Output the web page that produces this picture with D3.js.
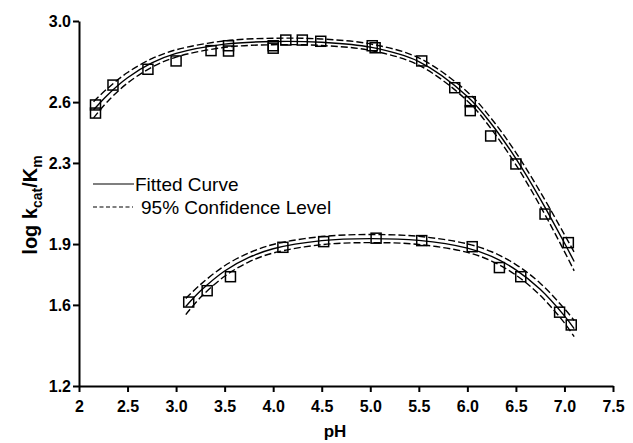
<!DOCTYPE html>
<html><head><meta charset="utf-8">
<script src="https://cdn.jsdelivr.net/npm/d3@7"></script>
<style>
html,body{margin:0;padding:0;background:#fff;}
svg{display:block;font-family:"Liberation Sans",Arial,Helvetica,sans-serif;}
</style></head>
<body>
<svg id="chart" width="633" height="443"></svg>
<script>
// ---- data ----
const xTicks = [2, 2.5, 3.0, 3.5, 4.0, 4.5, 5.0, 5.5, 6.0, 6.5, 7.0, 7.5];
const yTicks = [1.2, 1.6, 1.9, 2.3, 2.6, 3.0];

// upper profile: observed points
const upperPH  = [2.17, 2.17, 2.35, 2.71, 3.00, 3.36, 3.54, 3.54, 4.00, 4.00, 4.13, 4.30, 4.49, 5.02, 5.05, 5.53, 5.87, 6.03, 6.03, 6.24, 6.50, 6.80, 7.04];
const upperLog = [2.586, 2.546, 2.684, 2.762, 2.803, 2.854, 2.878, 2.852, 2.878, 2.866, 2.906, 2.906, 2.900, 2.878, 2.868, 2.803, 2.671, 2.602, 2.558, 2.433, 2.295, 2.048, 1.907];
// upper profile: fitted curve and 95% band half-width
const upperFitPH = [2.15, 2.30, 2.50, 2.75, 3.00, 3.50, 4.00, 4.50, 5.00, 5.50, 6.00, 6.25, 6.50, 6.75, 7.00, 7.10];
const upperFit   = [2.562, 2.638, 2.720, 2.793, 2.840, 2.886, 2.899, 2.895, 2.871, 2.800, 2.628, 2.491, 2.321, 2.123, 1.905, 1.814];
const upperBand  = [0.040, 0.032, 0.026, 0.021, 0.018, 0.016, 0.016, 0.016, 0.016, 0.018, 0.022, 0.026, 0.030, 0.035, 0.042, 0.046];

// lower profile: observed points
const lowerPH  = [3.13, 3.32, 3.56, 4.10, 4.52, 5.06, 5.53, 6.05, 6.33, 6.55, 6.95, 7.07];
const lowerLog = [1.614, 1.670, 1.739, 1.884, 1.912, 1.929, 1.917, 1.887, 1.784, 1.739, 1.564, 1.501];
// lower profile: fitted curve and 95% band half-width
const lowerFitPH = [3.10, 3.25, 3.50, 3.75, 4.00, 4.50, 5.00, 5.50, 6.00, 6.25, 6.50, 6.75, 7.00, 7.10];
const lowerFit   = [1.592, 1.668, 1.767, 1.834, 1.877, 1.917, 1.927, 1.918, 1.880, 1.839, 1.773, 1.677, 1.546, 1.483];
const lowerBand  = [0.040, 0.032, 0.026, 0.022, 0.021, 0.020, 0.020, 0.020, 0.021, 0.023, 0.026, 0.030, 0.035, 0.040];

const legendItems = ["Fitted Curve", "95% Confidence Level"];

// ---- drawing ----
const svg = d3.select("#chart");
const x = d3.scaleLinear().domain([2, 7.5]).range([79, 613]);
const y = d3.scaleLinear().domain([1.2, 3.0]).range([386, 21]);

const xAxis = svg.append("g").attr("transform", "translate(0,386)")
  .call(d3.axisBottom(x).tickValues(xTicks).tickSize(6).tickSizeOuter(0)
        .tickFormat(d => d === 2 ? "2" : d3.format(".1f")(d)));
const yAxis = svg.append("g").attr("transform", "translate(79,0)")
  .call(d3.axisLeft(y).tickValues(yTicks).tickSize(6).tickSizeOuter(0)
        .tickFormat(d3.format(".1f")));
[xAxis, yAxis].forEach(g => {
  g.select(".domain").attr("stroke", "#000").attr("stroke-width", 2);
  g.selectAll(".tick line").attr("stroke", "#000").attr("stroke-width", 2);
  g.selectAll(".tick text").attr("fill", "#000").attr("font-size", 16)
   .attr("font-weight", "bold").attr("font-family", "Liberation Sans, Arial, sans-serif");
});
xAxis.selectAll(".tick text").attr("dy", "1.05em");
yAxis.selectAll(".tick text").attr("dy", "0.36em").attr("x", -8);

// axis titles
svg.append("text").attr("x", 335).attr("y", 437).attr("text-anchor", "middle")
  .attr("font-size", 17).attr("font-weight", "bold").text("pH");
const yt = svg.append("text").attr("transform", "translate(37,205) rotate(-90)")
  .attr("text-anchor", "middle").attr("font-size", 20).attr("font-weight", "bold");
yt.append("tspan").text("log k");
yt.append("tspan").attr("font-size", 14).attr("dy", 5).text("cat");
yt.append("tspan").attr("dy", -5).text("/K");
yt.append("tspan").attr("font-size", 14).attr("dy", 5).text("m");

// curves
const line = d3.line().x(d => x(d[0])).y(d => y(d[1])).curve(d3.curveCatmullRom);
function drawProfile(ph, fit, band) {
  const mid = ph.map((p, i) => [p, fit[i]]);
  const hi  = ph.map((p, i) => [p, fit[i] + band[i]]);
  const lo  = ph.map((p, i) => [p, fit[i] - band[i]]);
  svg.append("path").attr("d", line(mid)).attr("fill", "none").attr("stroke", "#000").attr("stroke-width", 1.4);
  [hi, lo].forEach(b => svg.append("path").attr("d", line(b)).attr("fill", "none")
    .attr("stroke", "#000").attr("stroke-width", 1.4).attr("stroke-dasharray", "7,3"));
}
drawProfile(upperFitPH, upperFit, upperBand);
drawProfile(lowerFitPH, lowerFit, lowerBand);

// points
const s = 10;
function drawPoints(ph, v) {
  svg.append("g").selectAll("rect").data(ph.map((p, i) => [p, v[i]])).join("rect")
    .attr("x", d => x(d[0]) - s / 2).attr("y", d => y(d[1]) - s / 2)
    .attr("width", s).attr("height", s)
    .attr("fill", "none").attr("stroke", "#000").attr("stroke-width", 1.5);
}
drawPoints(upperPH, upperLog);
drawPoints(lowerPH, lowerLog);

// legend
const lg = svg.append("g");
lg.append("line").attr("x1", 93).attr("x2", 134).attr("y1", 184).attr("y2", 184)
  .attr("stroke", "#000").attr("stroke-width", 1.2);
lg.append("line").attr("x1", 93).attr("x2", 133).attr("y1", 207).attr("y2", 207)
  .attr("stroke", "#000").attr("stroke-width", 1.2).attr("stroke-dasharray", "4,2.5");
lg.append("text").attr("x", 135).attr("y", 191).attr("font-size", 19).text(legendItems[0]);
lg.append("text").attr("x", 141).attr("y", 214).attr("font-size", 19).text(legendItems[1]);
</script>
</body></html>
